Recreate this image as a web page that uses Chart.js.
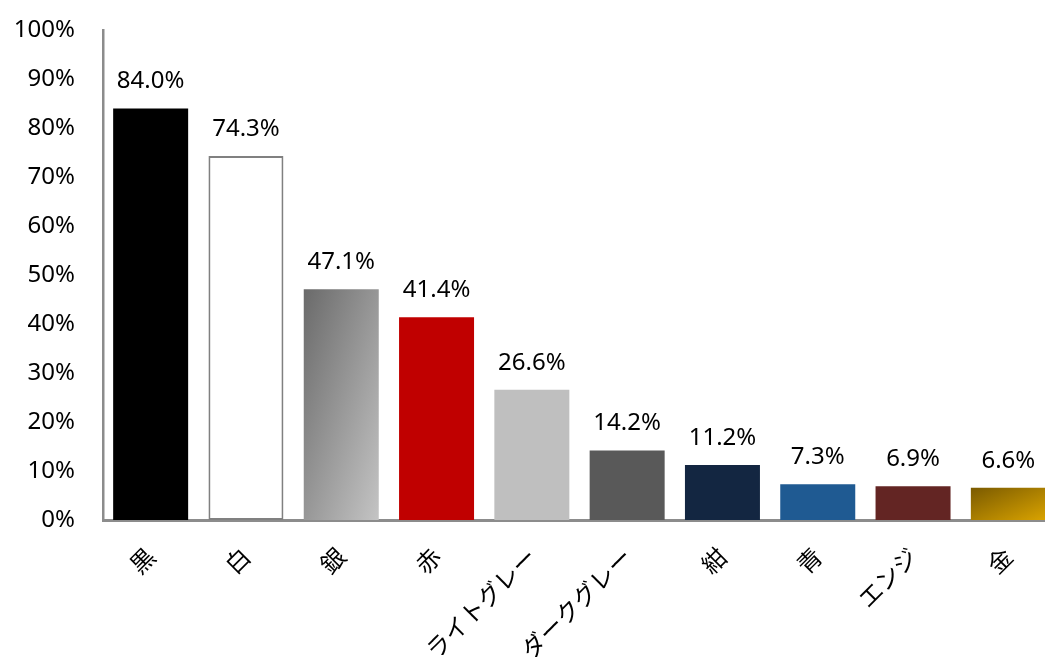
<!DOCTYPE html>
<html>
<head>
<meta charset="utf-8">
<script src="https://cdn.jsdelivr.net/npm/chart.js@4/dist/chart.umd.min.js"></script>
<style>
  html, body { margin: 0; padding: 0; background: #ffffff; overflow: hidden; }
  #wrap { position: relative; width: 1060px; height: 657px; }
</style>
</head>
<body>
<div id="wrap"><canvas id="c"></canvas></div>
<script>
// Colour names (categories) and their share in percent
const categories = ['黒', '白', '銀', '赤', 'ライトグレー', 'ダークグレー', '紺', '青', 'エンジ', '金'];
const shares = [84.0, 74.3, 47.1, 41.4, 26.6, 14.2, 11.2, 7.3, 6.9, 6.6];
const shareLabels = ['84.0%', '74.3%', '47.1%', '41.4%', '26.6%', '14.2%', '11.2%', '7.3%', '6.9%', '6.6%'];

// Fill per bar: plain colours, or [dark, light] pairs for diagonal gradients
const fills = ['#000000', '#ffffff', ['#6a6a6a', '#c4c4c4'], '#c00000', '#bfbfbf',
               '#595959', '#132641', '#1f5a92', '#632523', ['#7a5a00', '#d9a300']];
const borders = ['#000000', '#808080', 'rgba(0,0,0,0)', '#c00000', '#bfbfbf',
                 '#595959', '#132641', '#1f5a92', '#632523', 'rgba(0,0,0,0)'];

const BAR_PCT = 0.787;
const FONT = '"Noto Sans", "Noto Sans CJK JP", sans-serif';

function barFill(ctx) {
  const f = fills[ctx.dataIndex];
  if (typeof f === 'string') return f;
  const chart = ctx.chart;
  const xs = chart.scales.x, ys = chart.scales.y;
  if (!chart.chartArea || !xs || !ys) return f[1];
  const cw = xs.getPixelForValue(1) - xs.getPixelForValue(0);
  const w = Math.abs(cw) * BAR_PCT;
  const x0 = xs.getPixelForValue(ctx.dataIndex) - w / 2;
  const y0 = ys.getPixelForValue(shares[ctx.dataIndex]);
  const h = ys.getPixelForValue(0) - y0;
  if (!isFinite(w) || !isFinite(h) || h <= 0) return f[1];
  // isolines run along the anti-diagonal, so the gradient goes corner to corner
  const den = h * h + w * w;
  const g = chart.ctx.createLinearGradient(x0, y0, x0 + 2 * w * h * h / den, y0 + 2 * h * w * w / den);
  g.addColorStop(0, f[0]);
  g.addColorStop(1, f[1]);
  return g;
}

// Value labels above each bar
const valueLabels = {
  id: 'valueLabels',
  afterDatasetsDraw(chart) {
    const ctx = chart.ctx;
    const meta = chart.getDatasetMeta(0);
    ctx.save();
    ctx.font = '24px ' + FONT;
    ctx.fillStyle = '#000000';
    ctx.textAlign = 'center';
    ctx.textBaseline = 'alphabetic';
    meta.data.forEach((bar, i) => {
      ctx.fillText(shareLabels[i], bar.x, bar.y - 20);
    });
    ctx.restore();
  }
};

new Chart(document.getElementById('c'), {
  type: 'bar',
  data: {
    labels: categories,
    datasets: [{
      data: shares,
      backgroundColor: barFill,
      borderColor: borders,
      borderWidth: (c) => (c.dataIndex === 1 ? 2 : 0),
      borderSkipped: false,
      barPercentage: BAR_PCT,
      categoryPercentage: 1.0
    }]
  },
  options: {
    responsive: true,
    maintainAspectRatio: false,
    animation: false,
    layout: { padding: { top: 30, right: 4, left: 0, bottom: 0 } },
    plugins: { legend: { display: false }, tooltip: { enabled: false } },
    scales: {
      x: {
        grid: { display: false, drawTicks: false },
        border: { display: true, color: '#8c8c8c', width: 3 },
        ticks: {
          color: '#000000',
          font: { family: '"Noto Sans CJK JP", sans-serif', size: 24 },
          maxRotation: 45, minRotation: 45,
          padding: 22,
          autoSkip: false
        },
        afterFit(scale) { scale.height = 137; scale.paddingLeft = 0; }
      },
      y: {
        min: 0, max: 100,
        grid: { display: false, drawTicks: false },
        border: { display: true, color: '#8c8c8c', width: 2.5 },
        ticks: {
          stepSize: 10,
          color: '#000000',
          font: { family: FONT, size: 24 },
          padding: 28,
          callback: (v) => v + '%'
        },
        afterFit(scale) { scale.width = 103; scale.paddingTop = 0; scale.paddingBottom = 0; }
      }
    }
  },
  plugins: [valueLabels]
});
</script>
</body>
</html>
